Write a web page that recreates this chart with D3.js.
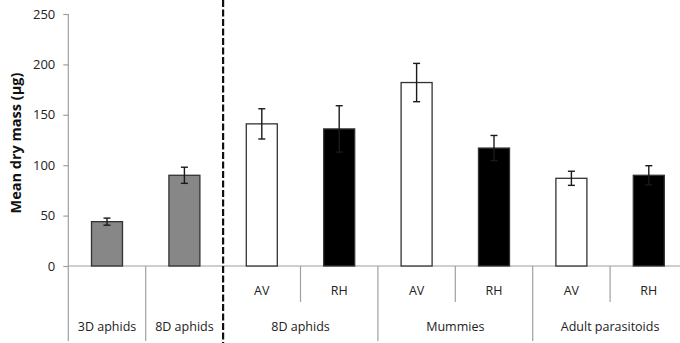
<!DOCTYPE html>
<html>
<head>
<meta charset="utf-8">
<script src="https://cdn.jsdelivr.net/npm/d3@7"></script>
<style>
  body { margin: 0; background: #fff; }
  svg { display: block; font-family: "Open Sans", sans-serif; }
</style>
</head>
<body>
<script>
var width = 680, height = 343;

// Data
var bars   = ["3D", "8D", "AV1", "RH1", "AV2", "RH2", "AV3", "RH3"];
var means  = [44, 90, 141, 136, 182, 117, 87, 90];
var errs   = [3.5, 8, 15, 23, 19, 12.5, 7, 9.5];
var fills  = ["grey", "grey", "white", "black", "white", "black", "white", "black"];
var subLabels = ["", "", "AV", "RH", "AV", "RH", "AV", "RH"];
var groups = [
  {name: "3D aphids", from: 0, to: 0},
  {name: "8D aphids", from: 1, to: 1},
  {name: "8D aphids", from: 2, to: 3},
  {name: "Mummies", from: 4, to: 5},
  {name: "Adult parasitoids", from: 6, to: 7}
];
var yTicks = [0, 50, 100, 150, 200, 250];

var zeroY = 266, topY = 14;

var x = d3.scaleBand().domain(bars).range([68.3, 687.5]).paddingInner(0).paddingOuter(0);
var y = d3.scaleLinear().domain([0, 250]).range([zeroY, topY]);
var fillScale = d3.scaleOrdinal().domain(["grey", "white", "black"]).range(["#878787", "#ffffff", "#000000"]);
var barW = 31;
var axisCol = "#a0a0a0";

var svg = d3.select("body").append("svg").attr("width", width).attr("height", height);

// y axis ticks + labels
var yAxis = svg.append("g")
  .attr("transform", "translate(" + x.range()[0] + ",0)")
  .call(d3.axisLeft(y).tickValues(yTicks).tickSize(5).tickPadding(8));
yAxis.select(".domain").remove();
yAxis.selectAll(".tick line").style("stroke", axisCol).style("stroke-width", 1.2);
yAxis.selectAll(".tick text")
  .attr("font-family", "Open Sans, sans-serif")
  .attr("font-size", "13px").attr("fill", "#222");

// axis lines
svg.append("line").attr("x1", x.range()[0]).attr("x2", x.range()[0])
  .attr("y1", y(250)).attr("y2", height - 2)
  .style("stroke", axisCol).style("stroke-width", 1.2);
svg.append("line").attr("x1", x.range()[0]).attr("x2", width)
  .attr("y1", y(0)).attr("y2", y(0))
  .style("stroke", axisCol).style("stroke-width", 1.2);

// y title
svg.append("text")
  .attr("transform", "translate(16," + y(122) + ") rotate(-90)")
  .attr("text-anchor", "middle").attr("dy", "0.35em")
  .attr("font-size", "14.5px").attr("font-weight", "bold").attr("fill", "#111")
  .text("Mean dry mass (µg)");

// dividers between sub categories (AV | RH)
svg.selectAll(".subdiv").data(groups.filter(g => g.to > g.from)).enter().append("line")
  .attr("x1", d => x(bars[d.to])).attr("x2", d => x(bars[d.to]))
  .attr("y1", y(0)).attr("y2", 302)
  .style("stroke", axisCol).style("stroke-width", 1.2);

// dividers between groups
svg.selectAll(".grpdiv").data(groups.slice(1).filter(g => g.from !== 2)).enter().append("line")
  .attr("x1", d => x(bars[d.from])).attr("x2", d => x(bars[d.from]))
  .attr("y1", y(0)).attr("y2", height - 2)
  .style("stroke", axisCol).style("stroke-width", 1.2);

// sub labels
svg.selectAll(".sublab").data(bars).enter().append("text")
  .attr("x", d => x(d) + x.bandwidth() / 2).attr("y", 291)
  .attr("dy", "0.35em").attr("text-anchor", "middle")
  .attr("font-size", "12.5px").attr("fill", "#222")
  .text((d, i) => subLabels[i]);

// group labels
svg.selectAll(".grplab").data(groups).enter().append("text")
  .attr("x", d => (x(bars[d.from]) + x(bars[d.to]) + x.bandwidth()) / 2)
  .attr("y", 327).attr("dy", "0.35em").attr("text-anchor", "middle")
  .attr("font-size", "12.5px").attr("fill", "#222")
  .text(d => d.name);

// bars
svg.selectAll(".bar").data(bars).enter().append("rect")
  .attr("x", d => x(d) + x.bandwidth() / 2 - barW / 2)
  .attr("width", barW)
  .attr("y", (d, i) => y(means[i]))
  .attr("height", (d, i) => y(0) - y(means[i]))
  .attr("fill", (d, i) => fillScale(fills[i]))
  .attr("stroke", "#333").attr("stroke-width", 1.3);

// error bars
var ebCol = "#1a1a1a";
var eb = svg.selectAll(".err").data(bars).enter().append("g")
  .attr("transform", d => "translate(" + (x(d) + x.bandwidth() / 2) + ",0)");
eb.append("line")
  .attr("y1", (d, i) => y(means[i] + errs[i])).attr("y2", (d, i) => y(means[i] - errs[i]))
  .style("stroke", ebCol).style("stroke-width", 1.4);
eb.append("line").attr("x1", -3.5).attr("x2", 3.5)
  .attr("y1", (d, i) => y(means[i] + errs[i])).attr("y2", (d, i) => y(means[i] + errs[i]))
  .style("stroke", ebCol).style("stroke-width", 1.4);
eb.append("line").attr("x1", -3.5).attr("x2", 3.5)
  .attr("y1", (d, i) => y(means[i] - errs[i])).attr("y2", (d, i) => y(means[i] - errs[i]))
  .style("stroke", ebCol).style("stroke-width", 1.4);

// dashed separator
svg.append("line")
  .attr("x1", x(bars[2])).attr("x2", x(bars[2]))
  .attr("y1", 0).attr("y2", height)
  .style("stroke", "#111").style("stroke-width", 2.2)
  .style("stroke-dasharray", "7,2.5");
</script>
</body>
</html>
